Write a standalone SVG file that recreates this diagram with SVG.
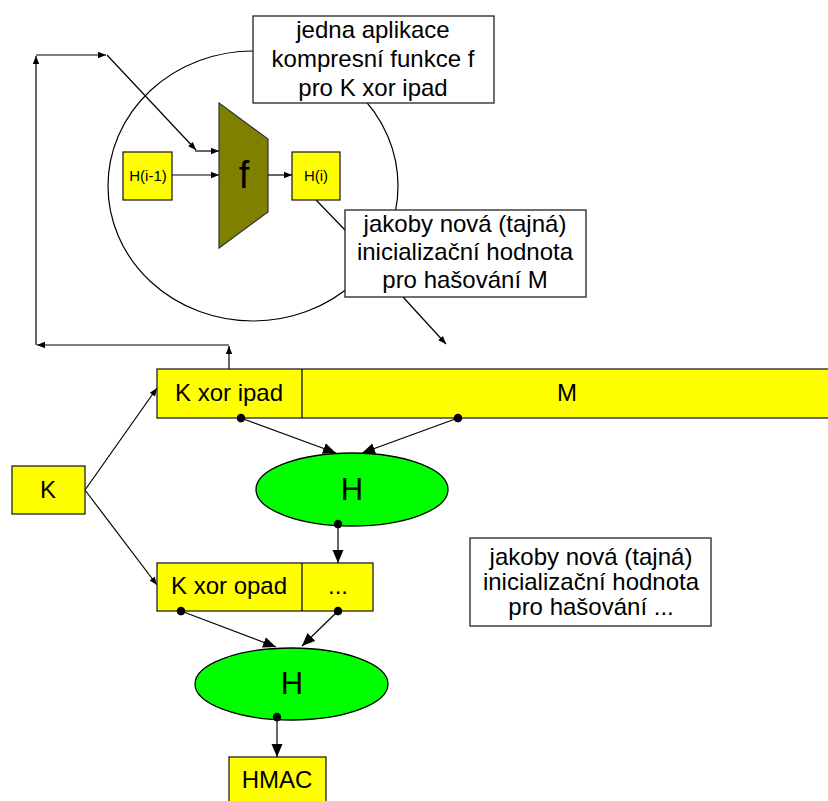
<svg xmlns="http://www.w3.org/2000/svg" width="828" height="801" viewBox="0 0 828 801">
<defs>
<style>
.ln{stroke:#000;stroke-width:1.2;fill:none}
.box{fill:#ffff00;stroke:#222;stroke-width:1.3}
.note{fill:#fff;stroke:#222;stroke-width:1.3}
.ell{fill:#00ff00;stroke:#000;stroke-width:1.3}
.t{font-family:"Liberation Sans",Arial,sans-serif;font-size:24px;fill:#000;text-anchor:middle}
.s{font-size:15px}
.sa{marker-end:url(#sa)}
.ba{marker-end:url(#ba);marker-start:url(#dot)}
</style>
<marker id="sa" markerUnits="userSpaceOnUse" markerWidth="10" markerHeight="10" viewBox="0 0 10 10" refX="9" refY="5" orient="auto"><path d="M1,1.8 L9,5 L1,8.2 Z" fill="#000"/></marker>
<marker id="ba" markerUnits="userSpaceOnUse" markerWidth="14" markerHeight="12" viewBox="0 0 14 12" refX="13" refY="6" orient="auto"><path d="M0,0.5 L13,6 L0,11.5 Z" fill="#000"/></marker>
<marker id="dot" markerUnits="userSpaceOnUse" markerWidth="10" markerHeight="10" viewBox="0 0 10 10" refX="5" refY="5" orient="auto"><circle cx="5" cy="5" r="4.2" fill="#000"/></marker>
</defs>
<rect width="828" height="801" fill="#fff"/>

<g id="circle"><ellipse cx="253" cy="186" rx="145" ry="135" class="ln"/></g>

<g id="connectors">
<line x1="229" y1="369" x2="229" y2="346" class="ln sa"/>
<line x1="229" y1="345" x2="37" y2="345" class="ln sa"/>
<line x1="36" y1="345" x2="36" y2="56" class="ln sa"/>
<line x1="36" y1="55" x2="106" y2="55" class="ln sa"/>
<line x1="107" y1="55" x2="196" y2="150" class="ln sa"/>
<line x1="195" y1="151" x2="219" y2="151" class="ln sa"/>
<line x1="172" y1="175" x2="219" y2="175" class="ln sa"/>
<line x1="268" y1="175" x2="292" y2="175" class="ln sa"/>
<line x1="316" y1="200" x2="346" y2="231" class="ln"/>
<line x1="403" y1="297" x2="446" y2="344" class="ln sa"/>
<line x1="85" y1="490" x2="157" y2="388" class="ln sa"/>
<line x1="85" y1="490" x2="157" y2="585" class="ln sa"/>
<line x1="241" y1="418" x2="336" y2="453" class="ln ba"/>
<line x1="458" y1="418" x2="362" y2="453" class="ln ba"/>
<line x1="338" y1="524" x2="338" y2="563" class="ln ba"/>
<line x1="181" y1="611" x2="276" y2="647" class="ln ba"/>
<line x1="338" y1="611" x2="302" y2="646" class="ln ba"/>
<line x1="277" y1="717" x2="277" y2="757" class="ln ba"/>
</g>

<g id="note-top"><rect x="253" y="16" width="241" height="87" class="note"/>
<text class="t" x="373" y="38">jedna aplikace</text>
<text class="t" x="373" y="67">kompresní funkce f</text>
<text class="t" x="373" y="96">pro K xor ipad</text></g>

<g id="f"><polygon points="219,103 268,139 268,212 219,248" fill="#808000" stroke="#333" stroke-width="1.2"/>
<text class="t" x="244" y="188" style="font-size:38px">f</text></g>

<g id="hi1"><rect x="123" y="152" width="49" height="48" class="box"/><text class="t s" x="148" y="181">H(i-1)</text></g>
<g id="hi"><rect x="292" y="152" width="48" height="48" class="box"/><text class="t s" x="316" y="181">H(i)</text></g>

<g id="note-m"><rect x="345" y="210" width="241" height="87" class="note"/>
<text class="t" x="465" y="232">jakoby nová (tajná)</text>
<text class="t" x="465" y="260">inicializační hodnota</text>
<text class="t" x="465" y="288">pro hašování M</text></g>

<g id="bar1"><rect x="157" y="369" width="680" height="49" class="box"/><line x1="302" y1="369" x2="302" y2="418" class="ln"/>
<text class="t" x="229" y="401">K xor ipad</text><text class="t" x="567" y="401">M</text></g>

<g id="k"><rect x="12" y="466" width="73" height="48" class="box"/><text class="t" x="48" y="498">K</text></g>

<g id="h1"><ellipse cx="352" cy="489.5" rx="96" ry="36.5" class="ell"/><text class="t" x="352" y="500" style="font-size:31px">H</text></g>

<g id="note-dots"><rect x="470" y="538" width="241" height="88" class="note"/>
<text class="t" x="591" y="565">jakoby nová (tajná)</text>
<text class="t" x="591" y="590">inicializační hodnota</text>
<text class="t" x="591" y="615">pro hašování ...</text></g>

<g id="bar2"><rect x="157" y="563" width="216" height="48" class="box"/><line x1="302" y1="563" x2="302" y2="611" class="ln"/>
<text class="t" x="229" y="594">K xor opad</text><text class="t" x="338" y="594">...</text></g>

<g id="h2"><ellipse cx="291.5" cy="684" rx="96.5" ry="36" class="ell"/><text class="t" x="292" y="694" style="font-size:31px">H</text></g>

<g id="hmac"><rect x="229" y="757" width="97" height="50" class="box"/><text class="t" x="277" y="788">HMAC</text></g>

<g id="dots">
<circle cx="241" cy="418" r="4.2"/><circle cx="458" cy="418" r="4.2"/><circle cx="338" cy="524" r="4.2"/>
<circle cx="181" cy="611" r="4.2"/><circle cx="338" cy="611" r="4.2"/><circle cx="277" cy="717" r="4.2"/>
</g>
</svg>
